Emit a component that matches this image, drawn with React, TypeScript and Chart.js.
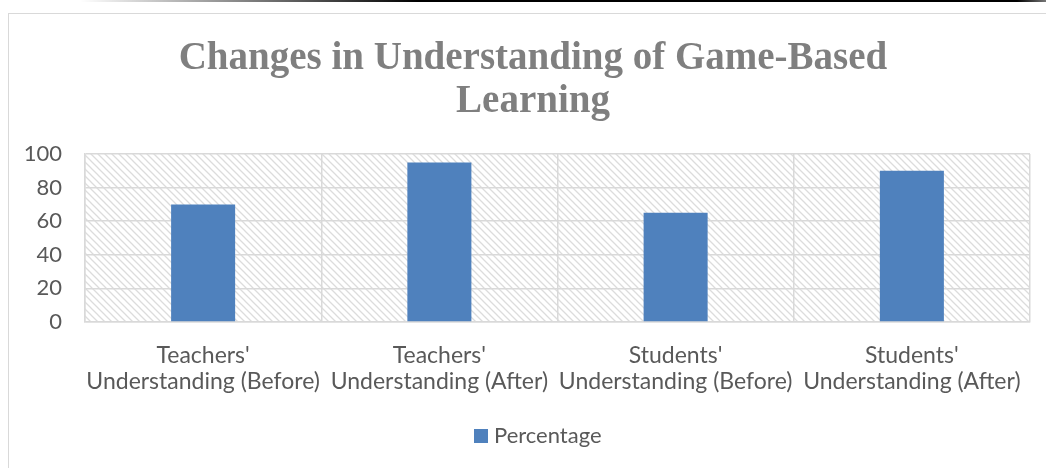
import React, { useEffect, useRef } from "react";
import { Chart, registerables } from "chart.js";

Chart.register(...registerables);

const titleLines = ["Changes in Understanding of Game-Based", "Learning"];
const categories = [
  ["Teachers'", "Understanding (Before)"],
  ["Teachers'", "Understanding (After)"],
  ["Students'", "Understanding (Before)"],
  ["Students'", "Understanding (After)"],
];
const seriesName = "Percentage";
const percentages = [70, 95, 65, 90];
const yMin = 0;
const yMax = 100;
const yStep = 20;

const BAR_COLOR = "#4F81BD";
const TEXT_COLOR = "#595959";
const SANS = "Lato, 'Noto Sans', sans-serif";

function makeHatch(ctx: CanvasRenderingContext2D) {
  const c = document.createElement("canvas");
  const s = 7;
  c.width = s;
  c.height = s;
  const g = c.getContext("2d")!;
  g.fillStyle = "#ffffff";
  g.fillRect(0, 0, s, s);
  g.strokeStyle = "#DCDCDC";
  g.lineWidth = 1.3;
  g.beginPath();
  g.moveTo(-1, -1);
  g.lineTo(s + 1, s + 1);
  g.moveTo(-1, s - 1);
  g.lineTo(1, s + 1);
  g.moveTo(s - 1, -1);
  g.lineTo(s + 1, 1);
  g.stroke();
  return ctx.createPattern(c, "repeat");
}

const decor = {
  id: "decor",
  beforeDraw(chart: any) {
    const { ctx, chartArea: a } = chart;
    ctx.save();
    ctx.fillStyle = "#ffffff";
    ctx.fillRect(0, 0, chart.width, chart.height);
    const g = ctx.createLinearGradient(80, 0, chart.width, 0);
    g.addColorStop(0, "rgba(0,0,0,0)");
    g.addColorStop(0.35, "#000000");
    g.addColorStop(0.97, "#000000");
    g.addColorStop(1, "#777777");
    ctx.fillStyle = g;
    ctx.fillRect(80, 0, chart.width - 80, 2);
    ctx.strokeStyle = "#D9D9D9";
    ctx.lineWidth = 1;
    ctx.strokeRect(8.5, 13.5, chart.width + 20, chart.height + 20);
    const p = makeHatch(ctx);
    if (p) {
      ctx.fillStyle = p;
      ctx.fillRect(a.left, a.top, a.right - a.left, a.bottom - a.top);
    }
    ctx.restore();
  },
  afterDraw(chart: any) {
    const { ctx } = chart;
    ctx.save();
    ctx.fillStyle = "#7F7F7F";
    ctx.font = "bold 39px 'Liberation Serif', serif";
    ctx.textAlign = "center";
    ctx.textBaseline = "alphabetic";
    const tx = 533;
    titleLines.forEach((line, i) => ctx.fillText(line, tx, 69 + i * 43));
    const ds = chart.data.datasets[0];
    ctx.fillStyle = ds.backgroundColor;
    ctx.fillRect(474, 429, 14, 14);
    ctx.fillStyle = TEXT_COLOR;
    ctx.font = `22px ${SANS}`;
    ctx.textAlign = "left";
    ctx.textBaseline = "middle";
    ctx.fillText(ds.label, 494, 436);
    ctx.restore();
  },
};

export default function App() {
  const ref = useRef<HTMLCanvasElement>(null);
  useEffect(() => {
    if (!ref.current) return;
    const chart = new Chart(ref.current, {
      type: "bar",
      data: {
        labels: categories,
        datasets: [
          {
            label: seriesName,
            data: percentages,
            backgroundColor: BAR_COLOR,
            borderWidth: 0,
            barPercentage: 0.271,
            categoryPercentage: 1,
          },
        ],
      },
      options: {
        responsive: false,
        animation: false,
        layout: { padding: { top: 154, left: 0, right: 16, bottom: 56 } },
        plugins: {
          title: { display: false },
          legend: { display: false },
          tooltip: { enabled: false },
        },
        scales: {
          x: {
            grid: { color: "#D9D9D9", lineWidth: 1.5, drawTicks: false, offset: true },
            border: { color: "#D9D9D9", width: 1.5 },
            ticks: {
              color: TEXT_COLOR,
              padding: 20,
              maxRotation: 0,
              autoSkip: false,
              font: { family: SANS, size: 23, lineHeight: 1.15 },
            },
            afterFit: (s: any) => {
              s.height = 90;
            },
          },
          y: {
            min: yMin,
            max: yMax,
            grid: { color: "#D9D9D9", lineWidth: 1.5, drawTicks: false },
            border: { color: "#D9D9D9", width: 1.5 },
            ticks: {
              stepSize: yStep,
              color: TEXT_COLOR,
              padding: 23,
              font: { family: SANS, size: 22 },
            },
            afterFit: (s: any) => {
              s.width = 85;
            },
          },
        },
      },
      plugins: [decor],
    });
    return () => chart.destroy();
  }, []);
  return (
    <div style={{ position: "absolute", left: 0, top: 0, width: 1046, height: 468 }}>
      <canvas ref={ref} width={1046} height={468} style={{ width: 1046, height: 468, display: "block" }} />
    </div>
  );
}
